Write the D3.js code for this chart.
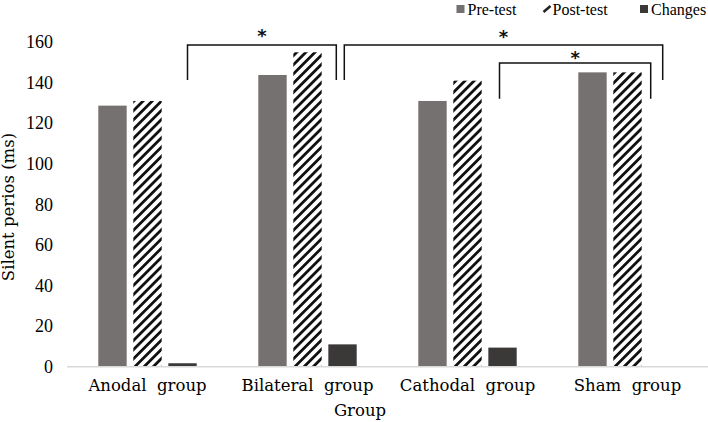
<!DOCTYPE html>
<html>
<head>
<meta charset="utf-8">
<script src="https://cdn.jsdelivr.net/npm/d3@7"></script>
<style>
  body { margin: 0; background: #fff; }
  svg { display: block; }
</style>
</head>
<body>
<script>
// data
var groups = ["Anodal  group", "Bilateral  group", "Cathodal  group", "Sham  group"];
var seriesNames = ["Pre-test", "Post-test", "Changes"];
var preTest  = [128.6, 143.7, 130.9, 145.0];
var postTest = [130.9, 154.9, 140.9, 145.0];
var changes  = [1.7, 11.0, 9.4, 0.3];
var yTicks = [0, 20, 40, 60, 80, 100, 120, 140, 160];

// significance brackets: group index + fraction inside band, heights in ms
var brackets = [
  { from: 0, fromAt: 0.75, to: 1, toAt: 0.68, top: 158.5, foot: 141.2, star: 164.9 },
  { from: 1, fromAt: 0.73, to: 3, toAt: 0.72, top: 158.5, foot: 141.2, star: 164.5 },
  { from: 2, fromAt: 0.70, to: 3, toAt: 0.645, top: 149.6, foot: 132.0, star: 154.0 }
];

var width = 708, height = 422;
var colors = { "Pre-test": "#767171", "Post-test": "url(#hatch)", "Changes": "#3b3838" };
var serif = "'DejaVu Serif', serif";

var svg = d3.select("body").append("svg")
    .attr("width", width)
    .attr("height", height);

var defs = svg.append("defs");
var pat = defs.append("pattern")
    .attr("id", "hatch")
    .attr("patternUnits", "userSpaceOnUse")
    .attr("width", 6.5)
    .attr("height", 6.5)
    .attr("patternTransform", "rotate(45)");
pat.append("rect").attr("width", 6.5).attr("height", 6.5).attr("fill", "#fff");
pat.append("rect").attr("x", 0).attr("width", 2.8).attr("height", 6.5).attr("fill", "#111");

var x0 = d3.scaleBand().domain(groups).range([67.5, 707.5]).padding(0);
var x1 = d3.scaleBand().domain(seriesNames).range([0, x0.bandwidth()])
    .paddingInner(0.19).paddingOuter(0.88);
var y = d3.scaleLinear().domain([0, 160]).range([366.7, 41.9]);

var rows = groups.map(function (g, i) {
  return { group: g, values: [
    { key: "Pre-test", value: preTest[i] },
    { key: "Post-test", value: postTest[i] },
    { key: "Changes", value: changes[i] }
  ]};
});

// bars
svg.append("g").selectAll("g")
  .data(rows)
  .join("g")
    .attr("transform", function (d) { return "translate(" + x0(d.group) + ",0)"; })
  .selectAll("rect")
  .data(function (d) { return d.values; })
  .join("rect")
    .attr("x", function (d) { return x1(d.key); })
    .attr("y", function (d) { return y(d.value); })
    .attr("width", x1.bandwidth())
    .attr("height", function (d) { return y(0) - y(d.value); })
    .attr("fill", function (d) { return colors[d.key]; });

// y axis (labels only)
var yAxis = svg.append("g")
    .attr("transform", "translate(60,0)")
    .call(d3.axisLeft(y).tickValues(yTicks).tickSize(0).tickPadding(7));
yAxis.select(".domain").remove();
yAxis.selectAll("text")
    .attr("font-family", "'Liberation Serif', 'Times New Roman', serif")
    .attr("font-size", 18)
    .attr("fill", "#000");

// x axis
var xAxis = svg.append("g")
    .attr("transform", "translate(0," + y(0) + ")")
    .call(d3.axisBottom(x0).tickSize(0).tickPadding(13));
xAxis.select(".domain").attr("stroke", "#d9d9d9").attr("stroke-width", 1.5)
    .attr("d", "M67,0H708");
xAxis.selectAll("text")
    .attr("font-family", serif)
    .attr("font-size", 16.5)
    .attr("fill", "#000")
    .style("white-space", "pre");

// axis titles
svg.append("text")
    .attr("x", 360).attr("y", 416)
    .attr("text-anchor", "middle")
    .attr("font-family", serif)
    .attr("font-size", 16.5)
    .attr("fill", "#000")
    .text("Group");

svg.append("text")
    .attr("transform", "translate(14,207) rotate(-90)")
    .attr("text-anchor", "middle")
    .attr("font-family", serif)
    .attr("font-size", 16.5)
    .attr("fill", "#000")
    .text("Silent perios (ms)");

// brackets
var bx = function (gi, f) { return x0(groups[gi]) + f * x0.bandwidth(); };
var bg = svg.append("g");
brackets.forEach(function (b) {
  var xa = bx(b.from, b.fromAt), xb = bx(b.to, b.toAt);
  bg.append("path")
    .attr("d", "M" + xa + "," + y(b.foot) + "V" + y(b.top) + "H" + xb + "V" + y(b.foot))
    .attr("fill", "none")
    .attr("stroke", "#111")
    .attr("stroke-width", 1.5);
  bg.append("text")
    .attr("x", (xa + xb) / 2)
    .attr("y", y(b.star) + 10)
    .attr("text-anchor", "middle")
    .attr("font-family", "'DejaVu Sans', sans-serif")
    .attr("font-weight", "bold")
    .attr("font-size", 18)
    .attr("fill", "#111")
    .text("*");
});

// legend
var legendX = [456.5, 541.5, 640];
var legend = svg.append("g");
seriesNames.forEach(function (s, i) {
  var lg = legend.append("g").attr("transform", "translate(" + legendX[i] + ",0)");
  if (s === "Post-test") {
    lg.append("path")
      .attr("d", "M2,12L9,6")
      .attr("stroke", "#222").attr("stroke-width", 2.5);
  } else {
    lg.append("rect")
      .attr("x", 0).attr("y", 5).attr("width", 8).attr("height", 8)
      .attr("fill", colors[s]);
  }
  lg.append("text")
    .attr("x", 11).attr("y", 14.5)
    .attr("font-family", "'Liberation Serif', serif")
    .attr("font-size", 16)
    .attr("fill", "#000")
    .text(s);
});
</script>
</body>
</html>
